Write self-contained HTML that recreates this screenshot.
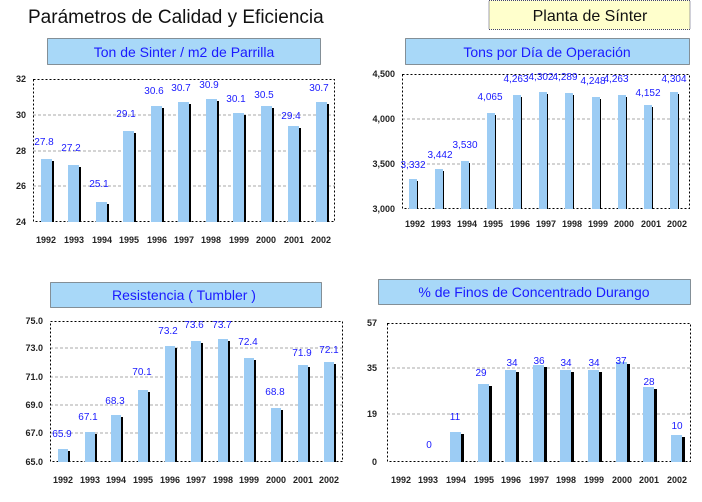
<!DOCTYPE html>
<html><head><meta charset="utf-8"><style>
html,body{margin:0;padding:0;background:#fff;}
svg{display:block;}
text{font-family:"Liberation Sans",sans-serif;}
.yl{font-size:9px;fill:#222;text-anchor:end;font-weight:bold;}
.xl{font-size:9px;fill:#222;text-anchor:middle;font-weight:bold;}
.vl{font-size:10px;fill:#1a1aff;text-anchor:middle;}
.bx{fill:#a8d8f8;stroke:#333;stroke-dasharray:1,1;}
.bt{font-size:14px;fill:#1a1aff;text-anchor:middle;}
.g{stroke:#aaa;stroke-dasharray:3,2;}
.pa{fill:none;stroke:#000;stroke-dasharray:2,2;}
.b{fill:#9cccf4;}
.s{fill:#000;}
</style></head><body>
<svg width="702" height="502" viewBox="0 0 702 502" xmlns="http://www.w3.org/2000/svg">
<text x="28" y="23" font-size="19" fill="#111">Parámetros de Calidad y Eficiencia</text>
<rect x="489" y="0.5" width="201" height="29" fill="#ffffcc" stroke="#446" stroke-dasharray="1,1"/>
<text x="590" y="21" font-size="16" fill="#111" text-anchor="middle">Planta de Sínter</text>

<!-- Chart 1 -->
<rect class="bx" x="47.5" y="38.5" width="273" height="26"/>
<text class="bt" x="184" y="57">Ton de Sinter / m2 de Parrilla</text>
<line class="g" x1="33" x2="335" y1="115" y2="115"/><line class="g" x1="33" x2="335" y1="151" y2="151"/><line class="g" x1="33" x2="335" y1="186" y2="186"/>
<rect class="pa" x="33.5" y="79.5" width="301" height="142"/>
<g class="yl"><text x="26" y="82">32</text><text x="26" y="118">30</text><text x="26" y="154">28</text><text x="26" y="189">26</text><text x="26" y="225">24</text></g>
<g>
<rect class="s" x="50" y="161" width="4" height="61"/><rect class="b" x="41" y="159" width="11" height="63"/>
<rect class="s" x="77" y="167" width="4" height="55"/><rect class="b" x="68" y="165" width="11" height="57"/>
<rect class="s" x="105" y="204" width="4" height="18"/><rect class="b" x="96" y="202" width="11" height="20"/>
<rect class="s" x="132" y="133" width="4" height="89"/><rect class="b" x="123" y="131" width="11" height="91"/>
<rect class="s" x="160" y="108" width="4" height="114"/><rect class="b" x="151" y="106" width="11" height="116"/>
<rect class="s" x="187" y="104" width="4" height="118"/><rect class="b" x="178" y="102" width="11" height="120"/>
<rect class="s" x="215" y="101" width="4" height="121"/><rect class="b" x="206" y="99" width="11" height="123"/>
<rect class="s" x="242" y="115" width="4" height="107"/><rect class="b" x="233" y="113" width="11" height="109"/>
<rect class="s" x="270" y="108" width="4" height="114"/><rect class="b" x="261" y="106" width="11" height="116"/>
<rect class="s" x="297" y="128" width="4" height="94"/><rect class="b" x="288" y="126" width="11" height="96"/>
<rect class="s" x="325" y="104" width="4" height="118"/><rect class="b" x="316" y="102" width="11" height="120"/>
</g>
<g class="vl"><text x="44" y="145">27.8</text><text x="71" y="151">27.2</text><text x="99" y="187">25.1</text><text x="126" y="117">29.1</text><text x="154" y="94">30.6</text><text x="181" y="91">30.7</text><text x="209" y="88">30.9</text><text x="236" y="102">30.1</text><text x="264" y="98">30.5</text><text x="291" y="119">29.4</text><text x="319" y="91">30.7</text></g>
<g class="xl"><text x="46" y="243">1992</text><text x="74" y="243">1993</text><text x="102" y="243">1994</text><text x="129" y="243">1995</text><text x="157" y="243">1996</text><text x="184" y="243">1997</text><text x="211" y="243">1998</text><text x="239" y="243">1999</text><text x="266" y="243">2000</text><text x="294" y="243">2001</text><text x="321" y="243">2002</text></g>

<!-- Chart 2 -->
<rect class="bx" x="405.5" y="38.5" width="284" height="26"/>
<text class="bt" x="547" y="57">Tons por Día de Operación</text>
<line class="g" x1="402" x2="690" y1="119" y2="119"/><line class="g" x1="402" x2="690" y1="164" y2="164"/>
<rect class="pa" x="402.5" y="74.5" width="287" height="134"/>
<g class="yl"><text x="395" y="77">4,500</text><text x="395" y="122">4,000</text><text x="395" y="167">3,500</text><text x="395" y="212">3,000</text></g>
<g>
<rect class="s" x="416" y="181" width="2" height="28"/><rect class="b" x="409" y="179" width="8" height="30"/>
<rect class="s" x="442" y="171" width="2" height="38"/><rect class="b" x="435" y="169" width="8" height="40"/>
<rect class="s" x="468" y="163" width="2" height="46"/><rect class="b" x="461" y="161" width="8" height="48"/>
<rect class="s" x="494" y="115" width="2" height="94"/><rect class="b" x="487" y="113" width="8" height="96"/>
<rect class="s" x="520" y="97" width="2" height="112"/><rect class="b" x="513" y="95" width="8" height="114"/>
<rect class="s" x="546" y="94" width="2" height="115"/><rect class="b" x="539" y="92" width="8" height="117"/>
<rect class="s" x="572" y="95" width="2" height="114"/><rect class="b" x="565" y="93" width="8" height="116"/>
<rect class="s" x="599" y="99" width="2" height="110"/><rect class="b" x="592" y="97" width="8" height="112"/>
<rect class="s" x="625" y="97" width="2" height="112"/><rect class="b" x="618" y="95" width="8" height="114"/>
<rect class="s" x="651" y="107" width="2" height="102"/><rect class="b" x="644" y="105" width="8" height="104"/>
<rect class="s" x="677" y="94" width="2" height="115"/><rect class="b" x="670" y="92" width="8" height="117"/>
</g>
<g class="vl" font-size="9"><text x="413" y="168">3,332</text><text x="440" y="158">3,442</text><text x="465" y="148">3,530</text><text x="490" y="100">4,065</text><text x="516" y="82">4,263</text><text x="541" y="80">4,302</text><text x="565" y="80">4,289</text><text x="593" y="84">4,248</text><text x="616" y="82">4,263</text><text x="648" y="96">4,152</text><text x="674" y="82">4,304</text></g>
<g class="xl" font-size="8"><text x="415" y="227">1992</text><text x="441" y="227">1993</text><text x="467" y="227">1994</text><text x="493" y="227">1995</text><text x="520" y="227">1996</text><text x="546" y="227">1997</text><text x="572" y="227">1998</text><text x="598" y="227">1999</text><text x="624" y="227">2000</text><text x="651" y="227">2001</text><text x="677" y="227">2002</text></g>

<!-- Chart 3 -->
<rect class="bx" x="50.5" y="282.5" width="271" height="25"/>
<text class="bt" x="184" y="300">Resistencia ( Tumbler )</text>
<line class="g" x1="50" x2="343" y1="348" y2="348"/><line class="g" x1="50" x2="343" y1="377" y2="377"/><line class="g" x1="50" x2="343" y1="405" y2="405"/><line class="g" x1="50" x2="343" y1="433" y2="433"/>
<rect class="pa" x="50.5" y="321.5" width="292" height="140"/>
<g class="yl"><text x="43" y="324">75.0</text><text x="43" y="351">73.0</text><text x="43" y="380">71.0</text><text x="43" y="408">69.0</text><text x="43" y="436">67.0</text><text x="43" y="465">65.0</text></g>
<g>
<rect class="s" x="67" y="451" width="3" height="11"/><rect class="b" x="58" y="449" width="10" height="13"/>
<rect class="s" x="94" y="434" width="3" height="28"/><rect class="b" x="85" y="432" width="10" height="30"/>
<rect class="s" x="120" y="417" width="3" height="45"/><rect class="b" x="111" y="415" width="10" height="47"/>
<rect class="s" x="147" y="392" width="3" height="70"/><rect class="b" x="138" y="390" width="10" height="72"/>
<rect class="s" x="174" y="348" width="3" height="114"/><rect class="b" x="165" y="346" width="10" height="116"/>
<rect class="s" x="200" y="343" width="3" height="119"/><rect class="b" x="191" y="341" width="10" height="121"/>
<rect class="s" x="227" y="341" width="3" height="121"/><rect class="b" x="218" y="339" width="10" height="123"/>
<rect class="s" x="253" y="360" width="3" height="102"/><rect class="b" x="244" y="358" width="10" height="104"/>
<rect class="s" x="280" y="410" width="3" height="52"/><rect class="b" x="271" y="408" width="10" height="54"/>
<rect class="s" x="307" y="367" width="3" height="95"/><rect class="b" x="298" y="365" width="10" height="97"/>
<rect class="s" x="333" y="364" width="3" height="98"/><rect class="b" x="324" y="362" width="10" height="100"/>
</g>
<g class="vl"><text x="62" y="437">65.9</text><text x="88" y="420">67.1</text><text x="115" y="404">68.3</text><text x="142" y="375">70.1</text><text x="168" y="334">73.2</text><text x="194" y="328">73.6</text><text x="222" y="328">73.7</text><text x="248" y="345">72.4</text><text x="275" y="395">68.8</text><text x="302" y="356">71.9</text><text x="329" y="353">72.1</text></g>
<g class="xl"><text x="63" y="483">1992</text><text x="90" y="483">1993</text><text x="116" y="483">1994</text><text x="143" y="483">1995</text><text x="170" y="483">1996</text><text x="196" y="483">1997</text><text x="223" y="483">1998</text><text x="249" y="483">1999</text><text x="276" y="483">2000</text><text x="303" y="483">2001</text><text x="329" y="483">2002</text></g>

<!-- Chart 4 -->
<rect class="bx" x="378.5" y="279.5" width="312" height="25"/>
<text class="bt" x="534" y="297">% de Finos de Concentrado Durango</text>
<line class="g" x1="387" x2="691" y1="368" y2="368"/><line class="g" x1="387" x2="691" y1="414" y2="414"/>
<rect class="pa" x="387.5" y="323.5" width="303" height="138"/>
<g class="yl"><text x="377" y="326">57</text><text x="377" y="371">35</text><text x="377" y="417">19</text><text x="377" y="465">0</text></g>
<g>
<rect class="s" x="461" y="434" width="3" height="28"/><rect class="b" x="450" y="432" width="11" height="30"/>
<rect class="s" x="489" y="386" width="3" height="76"/><rect class="b" x="478" y="384" width="11" height="78"/>
<rect class="s" x="516" y="372" width="3" height="90"/><rect class="b" x="505" y="370" width="11" height="92"/>
<rect class="s" x="544" y="367" width="3" height="95"/><rect class="b" x="533" y="365" width="11" height="97"/>
<rect class="s" x="571" y="372" width="3" height="90"/><rect class="b" x="560" y="370" width="11" height="92"/>
<rect class="s" x="599" y="372" width="3" height="90"/><rect class="b" x="588" y="370" width="11" height="92"/>
<rect class="s" x="627" y="364" width="3" height="98"/><rect class="b" x="616" y="362" width="11" height="100"/>
<rect class="s" x="654" y="389" width="3" height="73"/><rect class="b" x="643" y="387" width="11" height="75"/>
<rect class="s" x="682" y="437" width="3" height="25"/><rect class="b" x="671" y="435" width="11" height="27"/>
</g>
<g class="vl"><text x="429" y="448">0</text><text x="455" y="420">11</text><text x="481" y="376">29</text><text x="512" y="366">34</text><text x="539" y="364">36</text><text x="566" y="366">34</text><text x="594" y="366">34</text><text x="621" y="364">37</text><text x="649" y="385">28</text><text x="677" y="429">10</text></g>
<g class="xl"><text x="401" y="483">1992</text><text x="428" y="483">1993</text><text x="456" y="483">1994</text><text x="484" y="483">1995</text><text x="511" y="483">1996</text><text x="539" y="483">1997</text><text x="566" y="483">1998</text><text x="594" y="483">1999</text><text x="622" y="483">2000</text><text x="649" y="483">2001</text><text x="677" y="483">2002</text></g>
</svg>
</body></html>
